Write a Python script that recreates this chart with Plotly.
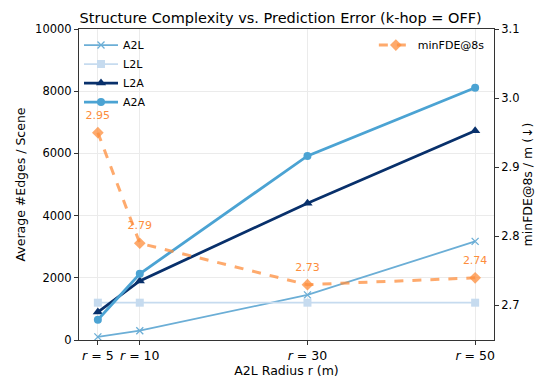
import plotly.graph_objects as go

radius = [5, 10, 30, 50]
tick_labels = ['<i>r</i> = 5', '<i>r</i> = 10', '<i>r</i> = 30', '<i>r</i> = 50']

a2l = [100, 300, 1450, 3170]
l2l = [1200, 1200, 1200, 1200]
l2a = [900, 1900, 4400, 6730]
a2a = [650, 2130, 5920, 8110]
min_fde = [2.95, 2.79, 2.73, 2.74]
fde_labels = ['2.95', '2.79', '2.73', '2.74']

orange = 'rgba(253,141,60,0.75)'
fig = go.Figure()

fig.add_trace(go.Scatter(x=radius, y=a2l, name='A2L', mode='lines+markers',
                         line=dict(color='#6baed6', width=1.8),
                         marker=dict(symbol='x-thin', size=7, line=dict(color='#6baed6', width=1.3))))
fig.add_trace(go.Scatter(x=radius, y=l2l, name='L2L', mode='lines+markers',
                         line=dict(color='#c6dbef', width=1.8),
                         marker=dict(symbol='square', size=8, color='#c6dbef')))
fig.add_trace(go.Scatter(x=radius, y=l2a, name='L2A', mode='lines+markers',
                         line=dict(color='#08306b', width=2.8),
                         marker=dict(symbol='triangle-up', size=9, color='#08306b')))
fig.add_trace(go.Scatter(x=radius, y=a2a, name='A2A', mode='lines+markers',
                         line=dict(color='#4ba3d3', width=2.8),
                         marker=dict(symbol='circle', size=8, color='#4ba3d3')))
fig.add_trace(go.Scatter(x=radius, y=min_fde, name='minFDE@8s', mode='lines+markers',
                         yaxis='y2', legend='legend2',
                         line=dict(color=orange, width=3, dash='dash'),
                         marker=dict(symbol='diamond', size=9, color=orange)))
# value labels above the orange points (invisible markers push the text up)
fig.add_trace(go.Scatter(x=radius, y=min_fde, mode='markers+text', yaxis='y2', showlegend=False,
                         text=fde_labels, textposition='top center', hoverinfo='skip',
                         marker=dict(size=16, opacity=0),
                         textfont=dict(color='#fd8d3c', size=11)))

fig.update_layout(
    width=540, height=384,
    margin=dict(l=61, r=54, t=21, b=52),
    paper_bgcolor='white', plot_bgcolor='white',
    font=dict(family='DejaVu Sans', size=11, color='black'),
    title=dict(text='Structure Complexity vs. Prediction Error (k-hop = OFF)',
               x=0.505, xanchor='center', y=0.975, yanchor='middle', font=dict(size=14.5)),
    xaxis=dict(range=[2.75, 52.25], tickvals=radius, ticktext=tick_labels,
               title=dict(text='A2L Radius r (m)', font=dict(size=12.5), standoff=4),
               showgrid=True, gridcolor='#ebebeb', gridwidth=1,
               showline=True, linecolor='#333', linewidth=1, mirror=True,
               ticks='outside', ticklen=4, tickcolor='#333', zeroline=False,
               tickfont=dict(size=12.5)),
    yaxis=dict(range=[0, 10000], tickvals=[0, 2000, 4000, 6000, 8000, 10000],
               ticktext=['0', '2000', '4000', '6000', '8000', '10000'],
               title=dict(text='Average #Edges / Scene', font=dict(size=12.5), standoff=6),
               showgrid=True, gridcolor='#ebebeb', gridwidth=1,
               showline=True, linecolor='#333', linewidth=1, mirror=True,
               ticks='outside', ticklen=4, tickcolor='#333', zeroline=False,
               tickfont=dict(size=11.5)),
    yaxis2=dict(range=[2.65, 3.1], tickvals=[2.7, 2.8, 2.9, 3.0, 3.1],
                ticktext=['2.7', '2.8', '2.9', '3.0', '3.1'],
                overlaying='y', side='right', showgrid=False,
                title=dict(text='minFDE@8s / m (↓)', font=dict(size=12.5), standoff=4),
                showline=True, linecolor='#333', linewidth=1,
                ticks='outside', ticklen=4, tickcolor='#333', zeroline=False,
                tickfont=dict(size=11.5)),
    legend=dict(x=0.0, y=0.995, xanchor='left', yanchor='top',
                bgcolor='rgba(255,255,255,0)', font=dict(size=11), tracegroupgap=0,
                itemwidth=34),
    legend2=dict(x=0.99, y=0.995, xanchor='right', yanchor='top',
                 bgcolor='rgba(255,255,255,0)', font=dict(size=11), itemwidth=34),
)

fig.write_html('out.html')
